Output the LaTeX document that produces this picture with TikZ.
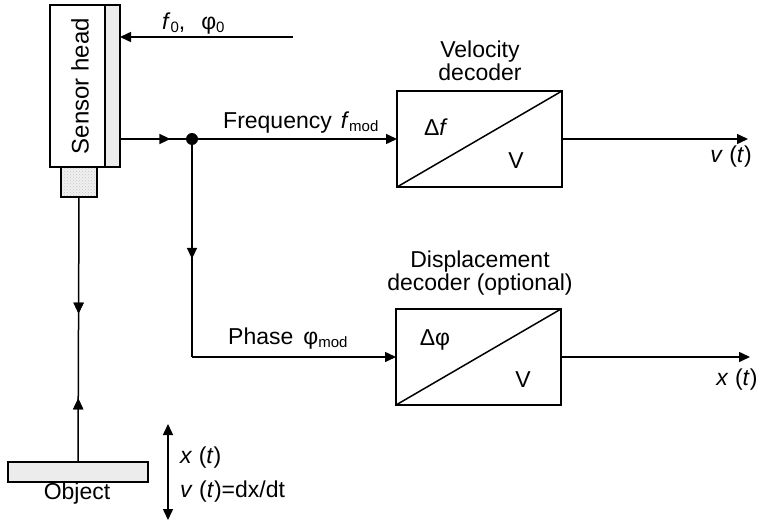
\documentclass[tikz,border=0pt]{standalone}
\usepackage{fontspec}
\setmainfont{Liberation Sans}
\usetikzlibrary{arrows.meta,decorations.markings,patterns}
\newcommand\sbs[1]{\raisebox{-3pt}{\fontsize{15}{15}\selectfont #1}}
\begin{document}
\begin{tikzpicture}[x=1pt,y=-1pt,
  every node/.style={font=\fontsize{23}{27}\selectfont},
  line/.style={line width=1.5pt},
  tip/.style={-{Triangle[length=11pt,width=10pt]}},
  blk/.style={draw,line width=1.5pt,inner sep=0pt,outer sep=0pt},
  lbl/.style={inner sep=0pt},
  marr/.style={postaction={decorate},decoration={markings,mark=at position #1 with {\arrow{Triangle[length=11pt,width=10pt]}}}},
  rarr/.style={postaction={decorate},decoration={markings,mark=at position #1 with {\arrowreversed{Triangle[length=11pt,width=10pt]}}}}]
\useasboundingbox (0,0) rectangle (762,524);
% sensor head
\node[blk,minimum width=55pt,minimum height=162pt] (sensor) at (77.5,86) {};
\node[lbl,rotate=90,font=\fontsize{24}{28}\selectfont] (sensortxt) at (80,86) {Sensor head};
\node[blk,fill=gray!15,minimum width=15pt,minimum height=162pt] (strip) at (112.5,86) {};
\node[blk,fill=gray!12,minimum width=36pt,minimum height=30pt] (lens) at (79,182) {};
\fill[pattern=crosshatch dots,pattern color=gray!45] (lens.south west) rectangle (lens.north east);
\draw[line width=1.5pt] (lens.south west) rectangle (lens.north east);
% object
\node[blk,fill=gray!15,minimum width=140pt,minimum height=20pt] (object) at (78,472) {};
\node[lbl] (objtxt) at (77,494) {Object};
\draw[line,marr=0.44,rarr=0.76] (lens.south) -- (object.north);
% motion arrow
\coordinate (mtop) at (168,424);
\coordinate (mbot) at (168,520);
\draw[line,{Triangle[length=11pt,width=10pt]}-{Triangle[length=11pt,width=10pt]}] (mtop) -- (mbot);
\node[lbl,anchor=west] (xt) at (180,458) {\textit{x} (\textit{t})};
\node[lbl,anchor=west] (vt) at (180,492) {\textit{v} (\textit{t})=dx/dt};
% input
\coordinate (in) at (293,37);
\draw[line,tip] (in) -- (strip.east |- in);
\node[lbl,anchor=west] (f0) at (162,24) {\textit{f}\sbs{0},\hspace{16pt}φ\sbs{0}};
% split
\coordinate (dot) at (192,139);
\fill (dot) circle (6pt);
\draw[line,marr=0.7] (strip.east |- dot) -- (dot);
% velocity decoder
\node[blk,minimum width=165pt,minimum height=96pt] (vel) at (479.5,139) {};
\draw[line] (vel.south west) -- (vel.north east);
\node[lbl] (df) at (436,127) {Δ\textit{f}};
\node[lbl] (v1) at (516,161) {V};
\node[lbl,align=center] (veltitle) at (480,61) {Velocity\\[-4pt]decoder};
\draw[line,tip] (dot) -- (vel.west);
\node[lbl,anchor=west] (freq) at (223,123) {Frequency\hspace{9pt}\textit{f}\sbs{mod}};
\coordinate (vout) at (748,139);
\draw[line,tip] (vel.east) -- (vout);
\node[lbl] (vtout) at (731,157) {\textit{v} (\textit{t})};
% displacement decoder
\node[blk,minimum width=165pt,minimum height=96pt] (disp) at (478.5,357) {};
\draw[line] (disp.south west) -- (disp.north east);
\node[lbl] (dphi) at (435,340) {Δφ};
\node[lbl] (v2) at (523,380) {V};
\node[lbl,align=center] (disptitle) at (480,273) {Displacement\\[-4pt]decoder (optional)};
\coordinate (corner) at (192,357);
\draw[line,marr=0.55] (dot) -- (corner);
\draw[line,tip] (corner) -- (disp.west);
\node[lbl,anchor=west] (phase) at (228,339) {Phase\hspace{10pt}φ\sbs{mod}};
\coordinate (xout) at (750,357);
\draw[line,tip] (disp.east) -- (xout);
\node[lbl] (xtout) at (737,380) {\textit{x} (\textit{t})};
\end{tikzpicture}
\end{document}
